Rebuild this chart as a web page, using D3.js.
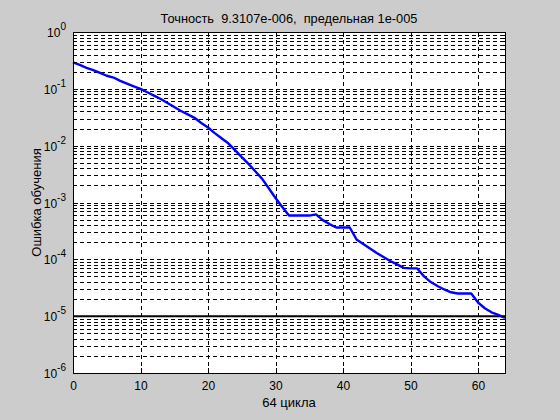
<!DOCTYPE html>
<html>
<head>
<meta charset="utf-8">
<script src="https://cdn.jsdelivr.net/npm/d3@7"></script>
<style>
  html, body { margin: 0; padding: 0; background: #cccccc; }
  svg { display: block; }
  text { font-family: "Liberation Sans", Arial, sans-serif; fill: #000; }
</style>
</head>
<body>
<svg id="chart" width="560" height="420"></svg>
<script>
// ---- data ----
const epochs = d3.range(0, 65);
const errorValues = [
  0.293, 0.263, 0.234, 0.214, 0.191, 0.170, 0.158, 0.138, 0.123, 0.110,
  0.100, 0.0871, 0.0759, 0.0661, 0.0562, 0.0479, 0.0407, 0.0355, 0.0309, 0.0251,
  0.0209, 0.0166, 0.0135, 0.0110, 0.00832, 0.00631, 0.00479, 0.00355, 0.00263, 0.00178,
  0.00120, 0.000832, 0.000589, 0.000589, 0.000589, 0.000589, 0.000617, 0.000490, 0.000417, 0.000363,
  0.000363, 0.000363, 0.000224, 0.000186, 0.000155, 0.000129, 0.000110, 0.0000933, 0.0000813, 0.0000708,
  0.0000692, 0.0000692, 0.0000501, 0.0000398, 0.0000339, 0.0000295, 0.0000263, 0.0000251, 0.0000251, 0.0000251,
  0.0000174, 0.0000138, 0.0000117, 0.0000105, 0.0000093107
];
const goalValue = 1e-5;
const xTicks = [0, 10, 20, 30, 40, 50, 60];
const yDecadeExponents = [-6, -5, -4, -3, -2, -1, 0];
const titleText = "Точность  9.3107e-006,  предельная 1e-005";
const xLabelText = "64 цикла";
const yLabelText = "Ошибка обучения";

// ---- layout ----
const L = 73, R = 505, T = 32, B = 373;
const svg = d3.select("#chart");
svg.append("rect").attr("width", 560).attr("height", 420).attr("fill", "#cccccc");

const x = d3.scaleLinear().domain([0, 64]).range([L, R]);
const y = d3.scaleLog().domain([1e-6, 1]).range([B, T]);

svg.append("rect").attr("x", L).attr("y", T).attr("width", R - L).attr("height", B - T).attr("fill", "#ffffff");

// minor + major log ticks
const allLogTicks = [];
for (let d = -6; d < 0; d++) for (let k = 1; k <= 9; k++) allLogTicks.push(k * Math.pow(10, d));
allLogTicks.push(1);

// grid
const grid = svg.append("g").attr("class", "grid");
grid.append("g")
  .attr("transform", `translate(0,${B})`)
  .call(d3.axisBottom(x).tickValues(xTicks.filter(v => v > 0 && v < 64)).tickSize(-(B - T)).tickFormat(""))
  .call(g => g.select(".domain").remove())
  .call(g => g.selectAll("line").attr("stroke", "#000").attr("stroke-dasharray", "4,3").attr("shape-rendering", "crispEdges"));
grid.append("g")
  .attr("transform", `translate(${L},0)`)
  .call(d3.axisLeft(y).tickValues(allLogTicks.filter(v => v > 1.0001e-6 && v < 0.9999)).tickSize(-(R - L)).tickFormat(""))
  .call(g => g.select(".domain").remove())
  .call(g => g.selectAll("line").attr("stroke", "#000").attr("stroke-dasharray", "4,3").attr("shape-rendering", "crispEdges"));

// goal line
svg.append("line")
  .attr("x1", L).attr("x2", R).attr("y1", y(goalValue)).attr("y2", y(goalValue))
  .attr("stroke", "#000").attr("stroke-width", 2);

// error curve
const line = d3.line().x((d, i) => x(epochs[i])).y(d => y(d));
svg.append("path").datum(errorValues)
  .attr("d", line).attr("fill", "none").attr("stroke", "#0000ff").attr("stroke-width", 2.4)
  .attr("stroke-linejoin", "round");

// axes
const xAxis = svg.append("g").attr("transform", `translate(0,${B})`)
  .call(d3.axisBottom(x).tickValues(xTicks).tickSizeInner(-5).tickSizeOuter(0).tickPadding(8));
xAxis.selectAll("text").attr("font-size", "12px").attr("fill", "#000");

const yAxis = svg.append("g").attr("transform", `translate(${L},0)`)
  .call(d3.axisLeft(y).tickValues(yDecadeExponents.map(e => Math.pow(10, e))).tickSizeInner(-5).tickSizeOuter(0).tickPadding(7).tickFormat(""));
yAxis.selectAll(".tick text").each(function (d) {
  const t = d3.select(this).attr("font-size", "12px").attr("dy", "0.38em").attr("fill", "#000");
  const e = Math.round(Math.log10(d));
  t.append("tspan").text("10");
  t.append("tspan").attr("dy", "-7").attr("font-size", "10px").text(String(e));
});
// minor ticks on left/right, x ticks on top
const minorG = svg.append("g");
minorG.append("g").attr("transform", `translate(${L},0)`)
  .call(d3.axisLeft(y).tickValues(allLogTicks).tickSizeInner(-3).tickSizeOuter(0).tickFormat(""))
  .call(g => g.select(".domain").remove());
minorG.append("g").attr("transform", `translate(${R},0)`)
  .call(d3.axisRight(y).tickValues(allLogTicks).tickSizeInner(-3).tickSizeOuter(0).tickFormat(""))
  .call(g => g.select(".domain").remove());
minorG.append("g").attr("transform", `translate(0,${T})`)
  .call(d3.axisTop(x).tickValues(xTicks).tickSizeInner(-5).tickSizeOuter(0).tickFormat(""))
  .call(g => g.select(".domain").remove());
svg.selectAll(".tick line").attr("shape-rendering", "crispEdges");

// box
svg.append("rect").attr("x", L).attr("y", T).attr("width", R - L).attr("height", B - T)
  .attr("fill", "none").attr("stroke", "#000").attr("stroke-width", 1).attr("shape-rendering", "crispEdges");
svg.selectAll(".domain").attr("shape-rendering", "crispEdges");

// labels
svg.append("text").attr("x", (L + R) / 2).attr("y", 23).attr("text-anchor", "middle")
  .attr("font-size", "12.8px").style("white-space", "pre").text(titleText);
svg.append("text").attr("x", (L + R) / 2).attr("y", 407).attr("text-anchor", "middle")
  .attr("font-size", "13px").text(xLabelText);
svg.append("text").attr("transform", `translate(41,${(T + B) / 2}) rotate(-90)`).attr("text-anchor", "middle")
  .attr("font-size", "13px").text(yLabelText);
</script>
</body>
</html>
